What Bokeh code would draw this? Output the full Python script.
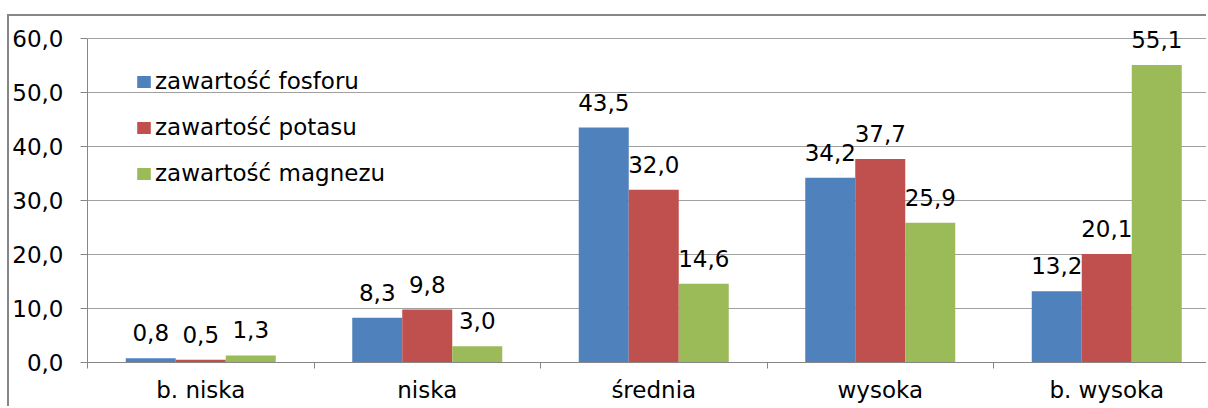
import numpy as np
from bokeh.plotting import figure
from bokeh.models import (ColumnDataSource, Range1d, FixedTicker, LabelSet,
                          Legend, LegendItem)
from bokeh.core.properties import value
from bokeh.embed import file_html
from bokeh.resources import INLINE

# ---- data ----
categories = ["b. niska", "niska", "średnia", "wysoka", "b. wysoka"]
series_names = ["zawartość fosforu", "zawartość potasu", "zawartość magnezu"]
fosfor = [0.8, 8.3, 43.5, 34.2, 13.2]
potas = [0.5, 9.8, 32.0, 37.7, 20.1]
magnez = [1.3, 3.0, 14.6, 25.9, 55.1]
y_ticks = [0, 10, 20, 30, 40, 50, 60]
y_tick_labels = ["0,0", "10,0", "20,0", "30,0", "40,0", "50,0", "60,0"]

colors = ["#4F81BD", "#C0504D", "#9BBB59"]
FONT = "DejaVu Sans"
FS = "23px"

# ---- geometry (host has 7px/14px margin + 2px border) ----
canvas_w, canvas_h = 1199, 392
left_b, bottom_b = 78, 46
top_gap = 22                      # px between canvas top and the 60 gridline
frame_w = canvas_w - left_b
px_per_cat = 226.5
px_per_unit = 5.4
bar_w = 50 / px_per_cat

n = len(categories)
centers = np.arange(n) + 0.5

p = figure(width=canvas_w, height=canvas_h, output_backend="svg",
           toolbar_location=None, x_range=Range1d(0, frame_w / px_per_cat),
           y_range=Range1d(0, 60 + top_gap / px_per_unit),
           min_border_left=left_b, min_border_right=0,
           min_border_top=0, min_border_bottom=bottom_b)
p.styles = {"margin-left": "7px", "margin-top": "14px",
            "border-left": "2px solid #868686", "border-top": "2px solid #868686"}
p.outline_line_color = None
p.background_fill_color = "white"
p.border_fill_color = "white"

series = [fosfor, potas, magnez]
offsets = [-bar_w, 0.0, bar_w]
renderers = []
for vals, off, col in zip(series, offsets, colors):
    src = ColumnDataSource(dict(
        x=centers + off, top=vals,
        lbl=[f"{v:.1f}".replace(".", ",") for v in vals]))
    r = p.vbar(x="x", top="top", width=bar_w, source=src, fill_color=col,
               line_color=None)
    renderers.append(r)
    p.add_layout(LabelSet(x="x", y="top", text="lbl", source=src,
                          text_align="center", text_baseline="alphabetic",
                          y_offset=17, text_font=value(FONT),
                          text_font_size=value(FS), text_color="black"))

legend = Legend(items=[LegendItem(label=nm, renderers=[r])
                       for nm, r in zip(series_names, renderers)],
                location=(48, 176), padding=0, margin=0,
                border_line_color=None, background_fill_alpha=0,
                glyph_width=17, glyph_height=15, label_standoff=3,
                spacing=20, label_text_font=FONT, label_text_font_size=FS,
                label_text_color="black", label_height=20)
p.add_layout(legend)

# y axis
p.yaxis.ticker = FixedTicker(ticks=y_ticks, minor_ticks=[])
p.yaxis.bounds = (y_ticks[0], y_ticks[-1])
p.yaxis.major_label_overrides = {t: l for t, l in zip(y_ticks, y_tick_labels)}
p.yaxis.major_label_text_font = FONT
p.yaxis.major_label_text_font_size = FS
p.yaxis.major_label_text_color = "black"
p.yaxis.major_label_standoff = 17
p.yaxis.major_tick_out = 7
p.yaxis.major_tick_in = 0
p.yaxis.axis_line_color = "#868686"
p.yaxis.major_tick_line_color = "#868686"

# x axis
p.xaxis.ticker = FixedTicker(ticks=list(centers), minor_ticks=list(np.arange(n + 1)))
p.xaxis.major_label_overrides = {float(c): nm for c, nm in zip(centers, categories)}
p.xaxis.major_label_text_font = FONT
p.xaxis.major_label_text_font_size = FS
p.xaxis.major_label_text_color = "black"
p.xaxis.major_label_standoff = 8
p.xaxis.major_tick_out = 0
p.xaxis.major_tick_in = 0
p.xaxis.major_tick_line_color = None
p.xaxis.minor_tick_out = 6
p.xaxis.minor_tick_in = 0
p.xaxis.minor_tick_line_color = "#868686"
p.xaxis.axis_line_color = "#868686"

p.xgrid.grid_line_color = None
p.ygrid.ticker = FixedTicker(ticks=y_ticks)
p.ygrid.grid_line_color = "#a0a0a0"

open("out.html", "w").write(file_html(p, INLINE))
